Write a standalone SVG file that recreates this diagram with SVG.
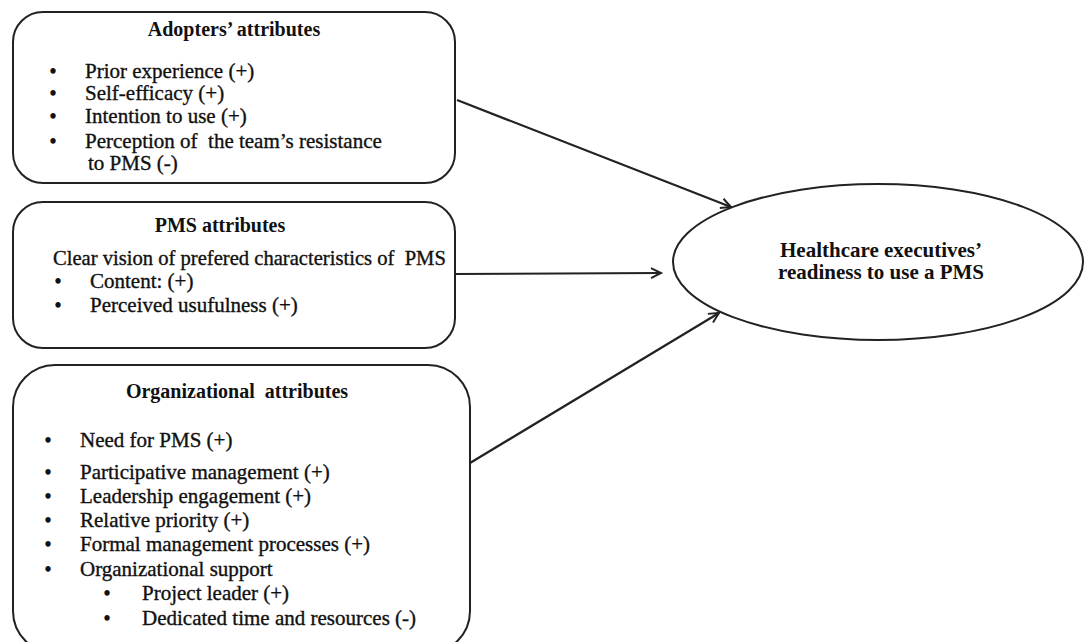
<svg xmlns="http://www.w3.org/2000/svg" width="1084" height="642" viewBox="0 0 1084 642">
<style>
.box{fill:#fff;stroke:#222;stroke-width:2}
.t{font-family:"Liberation Serif","Times New Roman",serif;font-size:21px;fill:#111;stroke:#111;stroke-width:0.35}
.h{font-family:"Liberation Serif","Times New Roman",serif;font-size:20px;font-weight:bold;fill:#111;text-anchor:middle}
.b{font-family:"Liberation Serif","Times New Roman",serif;font-size:20px;font-weight:bold;fill:#111;text-anchor:middle}
.c{fill:none;stroke:#222;stroke-width:2.2}
</style>
<defs>
<marker id="arr" markerWidth="14" markerHeight="14" refX="11" refY="6" orient="auto" markerUnits="userSpaceOnUse">
<path d="M1,1 L11,6 L1,11" fill="none" stroke="#222" stroke-width="2"/>
</marker>
</defs>
<rect width="1084" height="642" fill="#fff"/>
<g id="connectors">
<line class="c" x1="457" y1="100" x2="731" y2="207" marker-end="url(#arr)"/>
<line class="c" x1="455" y1="274" x2="661" y2="273" marker-end="url(#arr)"/>
<line class="c" x1="470" y1="463" x2="719" y2="313" marker-end="url(#arr)"/>
</g>
<g id="adopters">
<rect class="box" x="13" y="12" width="442" height="171" rx="30" ry="30"/>
<text class="h" x="234" y="36">Adopters’ attributes</text>
<text class="b" x="53" y="78">•</text><text class="t" x="85" y="78">Prior experience (+)</text>
<text class="b" x="53" y="100">•</text><text class="t" x="85" y="100">Self-efficacy (+)</text>
<text class="b" x="53" y="123">•</text><text class="t" x="85" y="123">Intention to use (+)</text>
<text class="b" x="53" y="148">•</text><text class="t" x="85" y="148" xml:space="preserve">Perception of  the team’s resistance</text>
<text class="t" x="88" y="170">to PMS (-)</text>
</g>
<g id="pms">
<rect class="box" x="13" y="202" width="442" height="146" rx="30" ry="30"/>
<text class="h" x="220" y="232">PMS attributes</text>
<text class="t" x="53" y="265" style="font-size:20.6px" xml:space="preserve">Clear vision of prefered characteristics of  PMS</text>
<text class="b" x="58" y="288">•</text><text class="t" x="90" y="288">Content: (+)</text>
<text class="b" x="58" y="312">•</text><text class="t" x="90" y="312">Perceived usufulness (+)</text>
</g>
<g id="organizational">
<rect class="box" x="13" y="365" width="457" height="288" rx="42" ry="42"/>
<text class="h" x="237" y="398" xml:space="preserve">Organizational  attributes</text>
<text class="b" x="48" y="447">•</text><text class="t" x="80" y="447">Need for PMS (+)</text>
<text class="b" x="48" y="479">•</text><text class="t" x="80" y="479">Participative management (+)</text>
<text class="b" x="48" y="503">•</text><text class="t" x="80" y="503">Leadership engagement (+)</text>
<text class="b" x="48" y="527">•</text><text class="t" x="80" y="527">Relative priority (+)</text>
<text class="b" x="48" y="551">•</text><text class="t" x="80" y="551">Formal management processes (+)</text>
<text class="b" x="48" y="576">•</text><text class="t" x="80" y="576">Organizational support</text>
<text class="b" x="107" y="600">•</text><text class="t" x="142" y="600">Project leader (+)</text>
<text class="b" x="107" y="625">•</text><text class="t" x="142" y="625">Dedicated time and resources (-)</text>
</g>
<g id="readiness">
<ellipse class="box" cx="878" cy="262" rx="205" ry="78"/>
<text class="h" x="881" y="257" style="font-size:21px">Healthcare executives’</text>
<text class="h" x="881" y="279" style="font-size:21px">readiness to use a PMS</text>
</g>
</svg>
